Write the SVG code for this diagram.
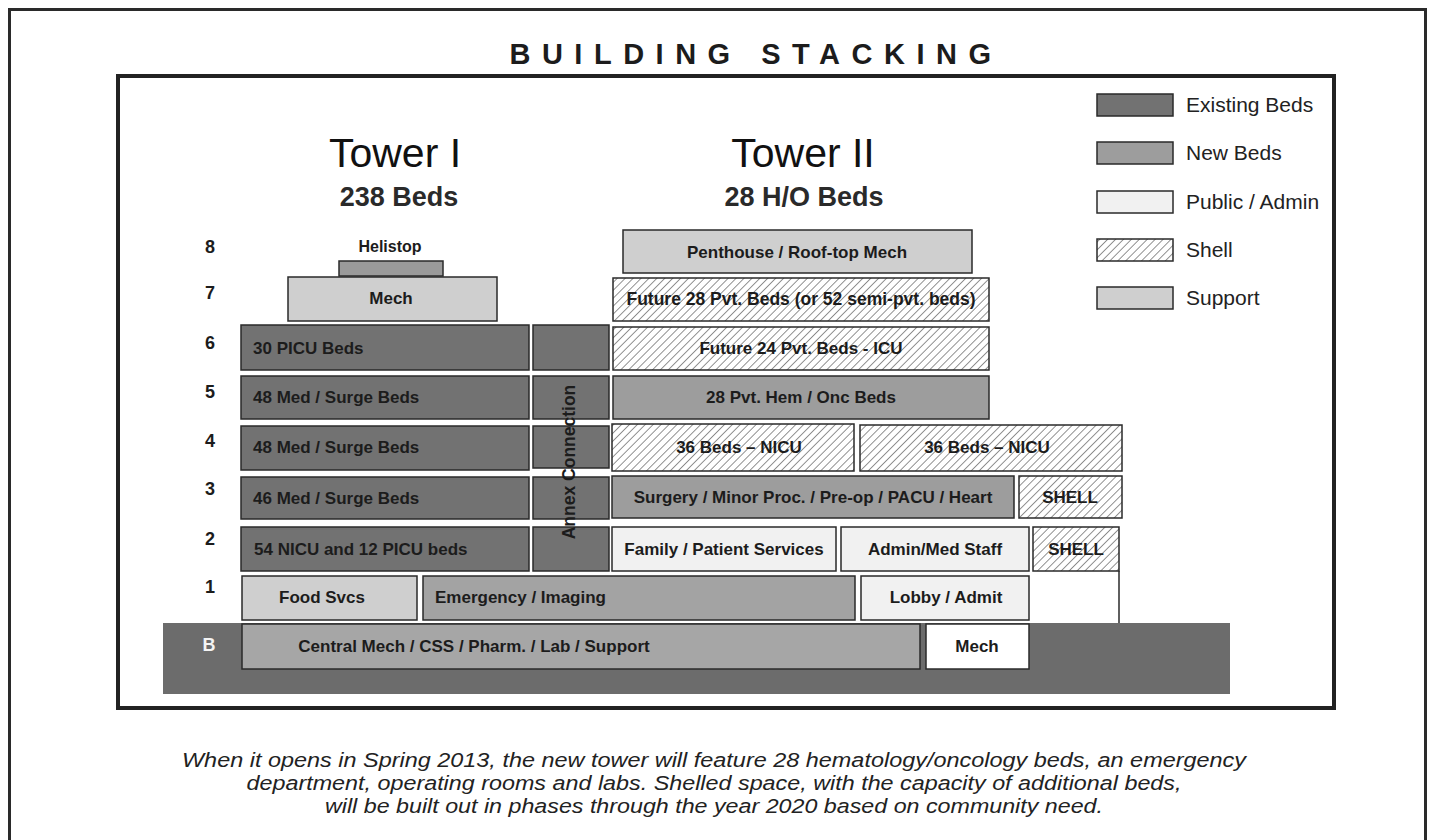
<svg xmlns="http://www.w3.org/2000/svg" width="1429" height="840" viewBox="0 0 1429 840">
<defs>
<pattern id="hatch" patternUnits="userSpaceOnUse" width="5.6" height="5.6" patternTransform="rotate(45)">
<rect width="6" height="6" fill="#ffffff"/>
<line x1="0" y1="0" x2="0" y2="6" stroke="#4a4a4a" stroke-width="1.2"/>
</pattern>
<style>
.box{stroke:#2a2a2a;stroke-width:1.5}
.ex{fill:#727272}
.nw{fill:#9d9d9d}
.sp{fill:#cfcfcf}
.pa{fill:#f1f1f1}
.sh{fill:url(#hatch)}
.lbl{font-family:"Liberation Sans",Arial,sans-serif;font-weight:bold;font-size:17px;fill:#1c1c1c}
.c{text-anchor:middle}
.fl{font-family:"Liberation Sans",Arial,sans-serif;font-weight:bold;font-size:18px;fill:#1c1c1c;text-anchor:middle}
.leg{font-family:"Liberation Sans",Arial,sans-serif;font-size:21px;fill:#222}
.cap{font-family:"Liberation Sans",Arial,sans-serif;font-style:italic;font-size:20.5px;fill:#222;text-anchor:middle}
</style>
</defs>
<rect width="1429" height="840" fill="#ffffff"/>
<rect x="9.5" y="9.5" width="1416" height="850" fill="none" stroke="#2a2a2a" stroke-width="3"/>
<text x="756" y="64" font-family="Liberation Sans,Arial,sans-serif" font-weight="bold" font-size="29" fill="#1c1c1c" text-anchor="middle" letter-spacing="11.5">BUILDING STACKING</text>
<rect x="118" y="76" width="1216" height="632" fill="none" stroke="#222" stroke-width="4"/>

<g id="legend">
<rect class="box ex" x="1097" y="94" width="76" height="22"/>
<text class="leg" x="1186" y="112">Existing Beds</text>
<rect class="box nw" x="1097" y="142" width="76" height="22"/>
<text class="leg" x="1186" y="160">New Beds</text>
<rect class="box pa" x="1097" y="191" width="76" height="22"/>
<text class="leg" x="1186" y="209">Public / Admin</text>
<rect class="box sh" x="1097" y="239" width="76" height="22"/>
<text class="leg" x="1186" y="257">Shell</text>
<rect class="box sp" x="1097" y="287" width="76" height="22"/>
<text class="leg" x="1186" y="305">Support</text>
</g>

<g id="headers">
<text x="395" y="167" font-family="Liberation Sans,Arial,sans-serif" font-size="41" fill="#111" text-anchor="middle">Tower I</text>
<text x="399" y="206" font-family="Liberation Sans,Arial,sans-serif" font-weight="bold" font-size="27" fill="#2a2a2a" text-anchor="middle">238 Beds</text>
<text x="803" y="167" font-family="Liberation Sans,Arial,sans-serif" font-size="41" fill="#111" text-anchor="middle">Tower II</text>
<text x="804" y="206" font-family="Liberation Sans,Arial,sans-serif" font-weight="bold" font-size="27" fill="#2a2a2a" text-anchor="middle">28 H/O Beds</text>
</g>

<g id="floors">
<text class="fl" x="210" y="253">8</text>
<text class="fl" x="210" y="299">7</text>
<text class="fl" x="210" y="349">6</text>
<text class="fl" x="210" y="398">5</text>
<text class="fl" x="210" y="447">4</text>
<text class="fl" x="210" y="495">3</text>
<text class="fl" x="210" y="545">2</text>
<text class="fl" x="210" y="593">1</text>
</g>

<g id="basement">
<rect x="163" y="623" width="1067" height="71" fill="#6c6c6c"/>
<text class="fl" x="209" y="651" style="fill:#f4f4f4">B</text>
<rect class="box" x="242" y="624" width="678" height="45" fill="#a6a6a6"/>
<text class="lbl c" x="474" y="652">Central Mech / CSS / Pharm. / Lab / Support</text>
<rect class="box" x="926" y="624" width="103" height="45" fill="#ffffff"/>
<text class="lbl c" x="977" y="652">Mech</text>
</g>

<g id="tower1">
<text class="lbl c" x="390" y="252" style="font-size:16px">Helistop</text>
<rect class="box" x="339" y="261" width="104" height="15" fill="#9a9a9a"/>
<rect class="box sp" x="288" y="277" width="209" height="44"/>
<text class="lbl c" x="391" y="304">Mech</text>
<rect class="box ex" x="241" y="325" width="288" height="45"/>
<text class="lbl" x="253" y="354">30 PICU Beds</text>
<rect class="box ex" x="241" y="376" width="288" height="43"/>
<text class="lbl" x="253" y="403">48 Med / Surge Beds</text>
<rect class="box ex" x="241" y="426" width="288" height="44"/>
<text class="lbl" x="253" y="453">48 Med / Surge Beds</text>
<rect class="box ex" x="241" y="477" width="288" height="42"/>
<text class="lbl" x="253" y="504">46 Med / Surge Beds</text>
<rect class="box ex" x="241" y="527" width="288" height="44"/>
<text class="lbl" x="254" y="555">54 NICU and 12 PICU beds</text>
<rect class="box sp" x="242" y="576" width="175" height="44"/>
<text class="lbl c" x="322" y="603">Food Svcs</text>
<rect class="box" x="423" y="576" width="432" height="44" fill="#a3a3a3"/>
<text class="lbl" x="435" y="603">Emergency / Imaging</text>
</g>

<g id="annex">
<rect class="box ex" x="533" y="325" width="76" height="45"/>
<rect class="box ex" x="533" y="376" width="76" height="43"/>
<rect class="box ex" x="533" y="426" width="76" height="42"/>
<rect class="box ex" x="533" y="477" width="76" height="42"/>
<rect class="box ex" x="533" y="527" width="76" height="44"/>
<text class="lbl c" transform="translate(575,462) rotate(-90)" style="font-size:17.5px">Annex Connection</text>
</g>

<g id="tower2">
<rect class="box sp" x="623" y="230" width="349" height="43"/>
<text class="lbl c" x="797" y="258">Penthouse / Roof-top Mech</text>
<rect class="box sh" x="613" y="278" width="376" height="43"/>
<text class="lbl c" x="801" y="305" style="font-size:17.5px">Future 28 Pvt. Beds (or 52 semi-pvt. beds)</text>
<rect class="box sh" x="613" y="327" width="376" height="43"/>
<text class="lbl c" x="801" y="354">Future 24 Pvt. Beds - ICU</text>
<rect class="box nw" x="613" y="376" width="376" height="43"/>
<text class="lbl c" x="801" y="403">28 Pvt. Hem / Onc Beds</text>
<rect class="box sh" x="612" y="424" width="242" height="47"/>
<text class="lbl c" x="739" y="453">36 Beds – NICU</text>
<rect class="box sh" x="860" y="425" width="262" height="46"/>
<text class="lbl c" x="987" y="453">36 Beds – NICU</text>
<rect class="box nw" x="612" y="476" width="402" height="42"/>
<text class="lbl c" x="813" y="503">Surgery / Minor Proc. / Pre-op / PACU / Heart</text>
<rect class="box sh" x="1019" y="476" width="103" height="42"/>
<text class="lbl c" x="1070" y="503">SHELL</text>
<rect class="box pa" x="612" y="527" width="224" height="44"/>
<text class="lbl c" x="724" y="555">Family / Patient Services</text>
<rect class="box pa" x="841" y="527" width="188" height="44"/>
<text class="lbl c" x="935" y="555">Admin/Med Staff</text>
<rect class="box sh" x="1033" y="527" width="86" height="44"/>
<text class="lbl c" x="1076" y="555">SHELL</text>
<rect class="box pa" x="861" y="576" width="168" height="44"/>
<text class="lbl c" x="946" y="603">Lobby / Admit</text>
<line x1="1119" y1="571" x2="1119" y2="623" stroke="#2a2a2a" stroke-width="1.5"/>
</g>

<g id="caption">
<text class="cap" x="714" y="767" textLength="1064" lengthAdjust="spacingAndGlyphs">When it opens in Spring 2013, the new tower will feature 28 hematology/oncology beds, an emergency</text>
<text class="cap" x="714" y="790" textLength="935" lengthAdjust="spacingAndGlyphs">department, operating rooms and labs. Shelled space, with the capacity of additional beds,</text>
<text class="cap" x="714" y="813" textLength="778" lengthAdjust="spacingAndGlyphs">will be built out in phases through the year 2020 based on community need.</text>
</g>
</svg>
